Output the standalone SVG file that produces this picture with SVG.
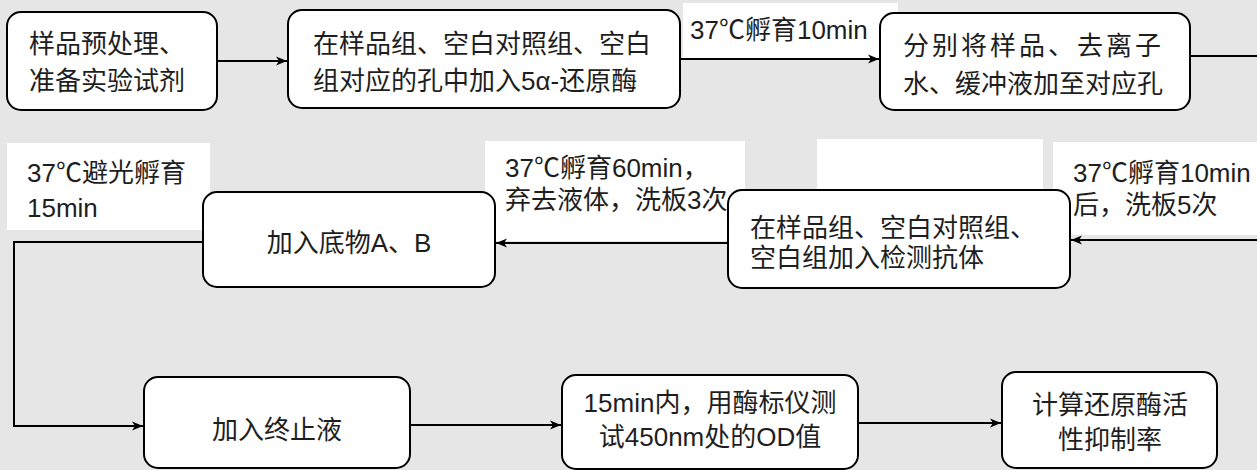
<svg xmlns="http://www.w3.org/2000/svg" width="1257" height="470" viewBox="0 0 1257 470">
<defs>
<style>
.bg{fill:#e6e6e6}
.box{fill:#ffffff;stroke:#000000;stroke-width:2}
.lbl{fill:#ffffff;stroke:none}
.t{font-family:"Liberation Sans","Noto Sans CJK SC",sans-serif;font-size:26px;fill:#1e1e1e}
.cj{font-family:"Noto Sans CJK SC",sans-serif}
.c{text-anchor:middle}
.ln{fill:none;stroke:#000000;stroke-width:2}
</style>
<marker id="ah" viewBox="0 0 12 10" refX="11" refY="5" markerWidth="12" markerHeight="10" markerUnits="userSpaceOnUse" orient="auto">
<path d="M0,0.5 L11,5 L0,9.5 L3,5 Z" fill="#000000"/>
</marker>
</defs>
<rect class="bg" x="0" y="0" width="1257" height="470"/>

<g id="labels">
<rect class="lbl" x="683" y="3" width="215" height="55"/>
<rect class="lbl" x="1053" y="142" width="204" height="93"/>
<rect class="lbl" x="817" y="139" width="226" height="55"/>
<rect class="lbl" x="485" y="141" width="260" height="100"/>
<rect class="lbl" x="7" y="143" width="203" height="87"/>
<text class="t" x="690" y="39">37<tspan class="cj">℃</tspan>孵育10min</text>
<text class="t" x="1073" y="182">37<tspan class="cj">℃</tspan>孵育10min</text>
<text class="t" x="1073" y="214">后，洗板5次</text>
<text class="t" x="505" y="177">37<tspan class="cj">℃</tspan>孵育60min，</text>
<text class="t" x="505" y="209">弃去液体，洗板3次</text>
<text class="t" x="27" y="182">37<tspan class="cj">℃</tspan>避光孵育</text>
<text class="t" x="27" y="217">15min</text>
</g>

<g id="connectors">
<line class="ln" x1="217" y1="61" x2="287" y2="61" marker-end="url(#ah)"/>
<line class="ln" x1="680" y1="59" x2="879" y2="59" marker-end="url(#ah)"/>
<line class="ln" x1="1190" y1="56" x2="1257" y2="56"/>
<line class="ln" x1="1257" y1="240" x2="1071" y2="240" marker-end="url(#ah)"/>
<line class="ln" x1="728" y1="243" x2="496" y2="243" marker-end="url(#ah)"/>
<path class="ln" d="M203,242 H14 V426 H143" marker-end="url(#ah)"/>
<line class="ln" x1="410" y1="425" x2="561" y2="425" marker-end="url(#ah)"/>
<line class="ln" x1="858" y1="423" x2="1001" y2="423" marker-end="url(#ah)"/>
</g>

<g id="n1">
<rect class="box" x="7" y="12" width="210" height="98" rx="14"/>
<text class="t" x="29" y="53">样品预处理、</text>
<text class="t" x="29" y="90">准备实验试剂</text>
</g>
<g id="n2">
<rect class="box" x="288" y="10" width="392" height="98" rx="14"/>
<text class="t" x="313" y="53">在样品组、空白对照组、空白</text>
<text class="t" x="313" y="90">组对应的孔中加入5α-还原酶</text>
</g>
<g id="n3">
<rect class="box" x="880" y="13" width="310" height="97" rx="14"/>
<text class="t" x="903" y="55" style="letter-spacing:3px">分别将样品、去离子</text>
<text class="t" x="903" y="93">水、缓冲液加至对应孔</text>
</g>
<g id="n4">
<rect class="box" x="728" y="190" width="342" height="98" rx="14"/>
<text class="t" x="750" y="237">在样品组、空白对照组、</text>
<text class="t" x="750" y="267">空白组加入检测抗体</text>
</g>
<g id="n5">
<rect class="box" x="203" y="192" width="292" height="95" rx="14"/>
<text class="t c" x="349" y="252">加入底物A、B</text>
</g>
<g id="n6">
<rect class="box" x="144" y="377" width="266" height="91" rx="14"/>
<text class="t c" x="277" y="439">加入终止液</text>
</g>
<g id="n7">
<rect class="box" x="562" y="375" width="296" height="94" rx="14"/>
<text class="t c" x="710" y="412">15min内，用酶标仪测</text>
<text class="t c" x="710" y="446">试450nm处的OD值</text>
</g>
<g id="n8">
<rect class="box" x="1002" y="372" width="215" height="96" rx="14"/>
<text class="t c" x="1110" y="414">计算还原酶活</text>
<text class="t c" x="1110" y="449">性抑制率</text>
</g>
</svg>
